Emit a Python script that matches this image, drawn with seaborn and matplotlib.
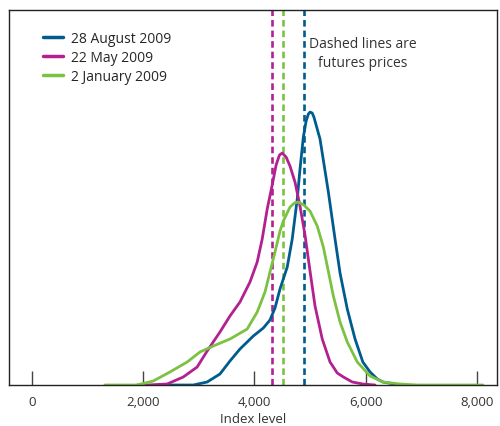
import numpy as np
import pandas as pd
import matplotlib.pyplot as plt
import seaborn as sns

# probability densities of the index level (arbitrary units)
aug_x = [2390, 2900, 3150, 3380, 3560, 3740, 3980, 4160, 4280, 4370, 4460, 4590,
         4680, 4770, 4820, 4880, 4930, 4970, 5000, 5040, 5070, 5180, 5330, 5450,
         5540, 5670, 5810, 5950, 6080, 6210, 6310, 6620]
aug_y = [0, 0, 3, 11, 24, 36, 49, 57, 65, 77, 96, 118,
         146, 186, 216, 248, 264, 271, 273, 272, 268, 246, 193, 146,
         112, 76, 46, 23, 13, 6, 3, 0]

may_x = [1890, 2070, 2430, 2720, 2970, 3150, 3380, 3560, 3740, 3920, 4050, 4140,
         4230, 4320, 4390, 4450, 4500, 4570, 4640, 4730, 4820, 4910, 5000, 5090,
         5220, 5360, 5490, 5600, 5760, 5950, 6170]
may_y = [0, 0, 1, 8, 18, 34, 53, 69, 83, 103, 123, 146,
         176, 200, 220, 230, 232, 228, 219, 203, 179, 150, 114, 79,
         46, 23, 12, 8, 3, 1, 0]

jan_x = [1310, 1890, 2180, 2480, 2790, 3020, 3260, 3560, 3870, 4050, 4190, 4280,
         4370, 4460, 4520, 4640, 4720, 4790, 4890, 5000, 5130, 5240, 5310, 5420,
         5540, 5670, 5850, 6080, 6310, 6620, 6930, 8110]
jan_y = [0, 0, 4, 13, 23, 33, 39, 46, 56, 73, 93, 113,
         133, 154, 164, 178, 182, 183, 180, 174, 159, 138, 119, 89,
         63, 43, 23, 9, 3, 1, 0, 0]

labels = ["28 August 2009", "22 May 2009", "2 January 2009"]
futures = [4890, 4320, 4510]
colors = ["#005b8f", "#b3208f", "#7cc242"]
xticks = [0, 2000, 4000, 6000, 8000]

df = pd.concat([
    pd.DataFrame({"x": aug_x, "y": aug_y, "date": labels[0]}),
    pd.DataFrame({"x": may_x, "y": may_y, "date": labels[1]}),
    pd.DataFrame({"x": jan_x, "y": jan_y, "date": labels[2]}),
])

sns.set_style("ticks")
plt.rcParams["font.family"] = ["Open Sans", "DejaVu Sans"]

fig = plt.figure(figsize=(5, 4.27), dpi=100)
ax = fig.add_axes([0.018, 0.096, 0.976, 0.878])

sns.lineplot(data=df, x="x", y="y", hue="date", hue_order=labels,
             palette=colors, linewidth=2, ax=ax, sort=True)
for line in ax.get_lines():
    line.set_solid_joinstyle("round")

for f, c in zip(futures, colors):
    ax.axvline(f, color=c, linestyle=(0, (2.5, 1.5)), linewidth=1.9, zorder=1)

ax.set_xlim(-414, 8363)
ax.set_ylim(0, 375)
ax.set_yticks([])
ax.set_xticks(xticks)
ax.set_xticklabels([f"{t:,}" for t in xticks], fontsize=9.5, color="#333333")
ax.tick_params(axis="x", direction="in", length=10, width=1, color="#444444", pad=7)
ax.set_xlabel("Index level", fontsize=9.5, color="#333333", labelpad=3)
ax.set_ylabel("")
for s in ax.spines.values():
    s.set_color("#222222")
    s.set_linewidth(1)

ax.legend(loc="upper left", bbox_to_anchor=(0.07, 0.945), frameon=False,
          fontsize=10, handlelength=1.4, handletextpad=0.6, labelspacing=0.3,
          borderpad=0, borderaxespad=0)
for line in ax.get_legend().get_lines():
    line.set_linewidth(2.5)

ax.text(0.725, 0.93, "Dashed lines are\nfutures prices", transform=ax.transAxes,
        ha="center", va="top", fontsize=10, color="#333333", linespacing=1.35)

plt.savefig("out.png", dpi=100)
